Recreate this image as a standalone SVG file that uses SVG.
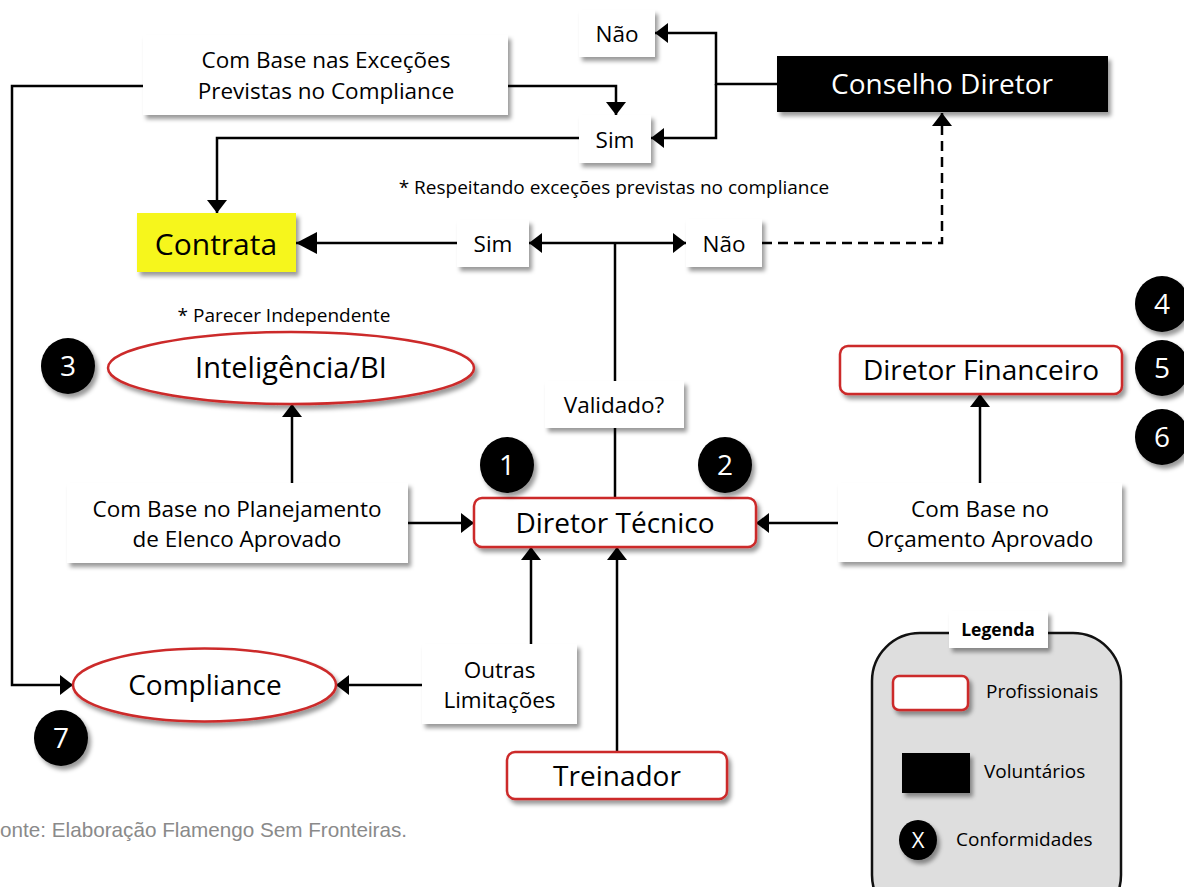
<svg xmlns="http://www.w3.org/2000/svg" width="1184" height="887" viewBox="0 0 1184 887">
<defs>
<filter id="sh" x="-20%" y="-30%" width="140%" height="170%">
<feDropShadow dx="3" dy="4" stdDeviation="2.2" flood-color="#000" flood-opacity="0.4"/>
</filter>
<marker id="ah" markerWidth="14" markerHeight="20" refX="13" refY="10" orient="auto" markerUnits="userSpaceOnUse">
<path d="M0,0 L13,10 L0,20 z" fill="#000"/>
</marker>
<marker id="ahb" markerWidth="22" markerHeight="22" refX="21" refY="11" orient="auto" markerUnits="userSpaceOnUse">
<path d="M0,0 L21,11 L0,22 z" fill="#000"/>
</marker>
<style>
text{font-family:"Open Sans","Noto Sans",sans-serif;fill:#000;text-anchor:middle}
.s{font-size:22.5px}
.l{font-size:28px}
.n{font-size:19px}
.num{font-size:28px;fill:#fff}
.box{fill:#fff;filter:url(#sh)}
.pro{fill:#fff;stroke:#cc2a2a;stroke-width:2.5;filter:url(#sh)}
.circ{fill:#000;filter:url(#sh)}
.con{fill:none;stroke:#000;stroke-width:2.5}
.arr{marker-end:url(#ah)}
</style>
</defs>

<g id="connectors">
<path class="con arr" d="M777,84 H716 V33 H655"/>
<path class="con arr" d="M716,84 V138 H651"/>
<path class="con arr" d="M508,86 H616 V115"/>
<path class="con arr" d="M579,138 H217 V213"/>
<path class="con arr" d="M143,86 H12 V685 H73"/>
<path class="con" d="M615,498 V243"/>
<path class="con arr" d="M615,243 H529"/>
<path class="con arr" d="M615,243 H686"/>
<path class="con" style="marker-end:url(#ahb)" d="M457,243 H296"/>
<path class="con arr" stroke-dasharray="10 6" d="M762,243 H942 V113"/>
<path class="con arr" d="M292,483 V404"/>
<path class="con arr" d="M408,523 H474"/>
<path class="con arr" d="M838,523 H756"/>
<path class="con arr" d="M980,483 V394"/>
<path class="con arr" d="M531,644 V547"/>
<path class="con arr" d="M617,752 V547"/>
<path class="con arr" d="M422,685 H336"/>
</g>

<g id="excecoes">
<rect class="box" x="143" y="35" width="365" height="80"/>
<text class="s" x="326" y="68">Com Base nas Exceções</text>
<text class="s" x="326" y="99">Previstas no Compliance</text>
</g>

<g id="nao-top">
<rect class="box" x="579" y="10" width="76" height="47"/>
<text class="s" x="617" y="42">Não</text>
</g>

<g id="sim-top">
<rect class="box" x="579" y="115" width="72" height="48"/>
<text class="s" x="615" y="148">Sim</text>
</g>

<g id="conselho">
<rect x="777" y="56" width="331" height="56" fill="#000" filter="url(#sh)"/>
<text class="l" x="942" y="94" style="fill:#fff">Conselho Diretor</text>
</g>

<g id="nota-respeitando">
<text class="n" x="614" y="194">* Respeitando exceções previstas no compliance</text>
</g>

<g id="contrata">
<rect x="137" y="213" width="159" height="59" fill="#f6f61a" filter="url(#sh)"/>
<text x="216" y="255" style="font-size:30px">Contrata</text>
</g>

<g id="sim-bottom">
<rect class="box" x="457" y="220" width="72" height="47"/>
<text class="s" x="493" y="252">Sim</text>
</g>

<g id="nao-bottom">
<rect class="box" x="686" y="219" width="76" height="48"/>
<text class="s" x="724" y="252">Não</text>
</g>

<g id="nota-parecer">
<text class="n" x="284" y="322">* Parecer Independente</text>
</g>

<g id="inteligencia">
<ellipse class="pro" cx="291" cy="368" rx="183" ry="36"/>
<text x="291" y="378" style="font-size:29px">Inteligência/BI</text>
</g>

<g id="validado">
<rect class="box" x="545" y="381" width="139" height="47"/>
<text class="s" x="614" y="413">Validado?</text>
</g>

<g id="diretor-financeiro">
<rect class="pro" x="840" y="346" width="282" height="48" rx="8"/>
<text class="l" x="981" y="380">Diretor Financeiro</text>
</g>

<g id="planejamento">
<rect class="box" x="67" y="483" width="341" height="80"/>
<text class="s" x="237" y="517">Com Base no Planejamento</text>
<text class="s" x="237" y="547">de Elenco Aprovado</text>
</g>

<g id="diretor-tecnico">
<rect class="pro" x="474" y="498" width="282" height="49" rx="8"/>
<text class="l" x="615" y="533">Diretor Técnico</text>
</g>

<g id="orcamento">
<rect class="box" x="838" y="483" width="284" height="79"/>
<text class="s" x="980" y="517">Com Base no</text>
<text class="s" x="980" y="547">Orçamento Aprovado</text>
</g>

<g id="compliance">
<ellipse class="pro" cx="204.5" cy="685" rx="131.5" ry="36.5"/>
<text class="l" x="205" y="695">Compliance</text>
</g>

<g id="outras">
<rect class="box" x="422" y="644" width="155" height="80"/>
<text class="s" x="499.5" y="678">Outras</text>
<text class="s" x="499.5" y="708">Limitações</text>
</g>

<g id="treinador">
<rect class="pro" x="507" y="752" width="220" height="47" rx="8"/>
<text class="l" x="617" y="786">Treinador</text>
</g>

<g id="c1"><ellipse class="circ" cx="507" cy="465" rx="27" ry="28"/><text class="num" x="507" y="475">1</text></g>
<g id="c2"><ellipse class="circ" cx="725" cy="465" rx="27" ry="28"/><text class="num" x="725" y="475">2</text></g>
<g id="c3"><ellipse class="circ" cx="68" cy="366" rx="27" ry="28"/><text class="num" x="68" y="376">3</text></g>
<g id="c4"><ellipse class="circ" cx="1162" cy="304" rx="27" ry="28"/><text class="num" x="1162" y="314">4</text></g>
<g id="c5"><ellipse class="circ" cx="1162" cy="368" rx="27" ry="28"/><text class="num" x="1162" y="378">5</text></g>
<g id="c6"><ellipse class="circ" cx="1162" cy="437" rx="27" ry="28"/><text class="num" x="1162" y="447">6</text></g>
<g id="c7"><ellipse class="circ" cx="61" cy="738" rx="27" ry="28"/><text class="num" x="61" y="748">7</text></g>

<g id="fonte">
<text x="0" y="837" style="font-family:'Liberation Sans',Arial,sans-serif;font-size:20.7px;fill:#8a8a8a;text-anchor:start">onte: Elaboração Flamengo Sem Fronteiras.</text>
</g>

<g id="legenda">
<rect x="872" y="633" width="249" height="290" rx="48" fill="#dedede" stroke="#111" stroke-width="2.5"/>
<rect class="box" x="949" y="611" width="99" height="37"/>
<text x="998" y="636" style="font-size:17.5px;font-weight:bold">Legenda</text>
<rect class="pro" x="893" y="676" width="75" height="34" rx="6"/>
<text class="n" x="986" y="698" style="text-anchor:start">Profissionais</text>
<rect x="902" y="753" width="68" height="40" fill="#000" filter="url(#sh)"/>
<text class="n" x="984" y="778" style="text-anchor:start">Voluntários</text>
<ellipse class="circ" cx="918" cy="840" rx="19" ry="20"/>
<text x="918" y="848" style="font-size:22px;fill:#fff">X</text>
<text class="n" x="956" y="846" style="text-anchor:start">Conformidades</text>
</g>
</svg>
